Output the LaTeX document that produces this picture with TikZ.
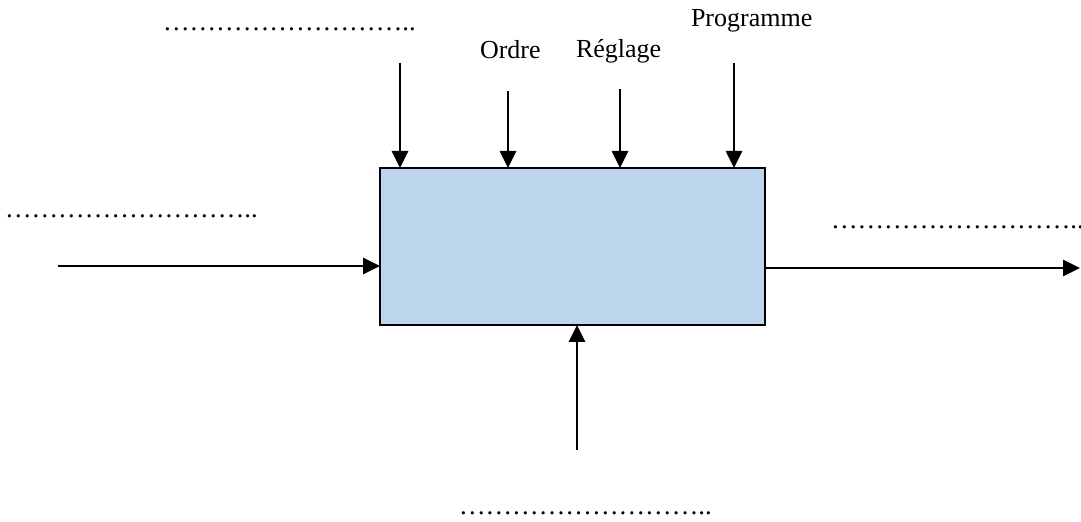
\documentclass[tikz,border=0pt]{standalone}
\usepackage{fontspec}
\setmainfont{Liberation Serif}
\usetikzlibrary{arrows.meta}
\definecolor{boxblue}{RGB}{189,214,238}
\begin{document}
\begin{tikzpicture}[x=0.5pt,y=-0.5pt,
  arr/.style={line width=1.35pt,-{Triangle[length=8.5pt,width=8pt]}},
  lbl/.style={inner sep=0pt,outer sep=0pt,anchor=base west,font=\fontsize{13}{15}\selectfont},
  dots/.style={lbl,font=\fontsize{13.3}{15}\selectfont},
  blk/.style={draw=black,line width=1.3pt,fill=boxblue,inner sep=0pt,outer sep=0pt,
    minimum width=192.5pt,minimum height=78.5pt}]
\useasboundingbox (0,0) rectangle (1081,522);
\clip (0,0) rectangle (1081,522);
\node[blk] (box) at (572.5,246.5) {};
% labels
\node[dots] (tl) at (163,31) {………………………..};
\node[lbl] (ordre) at (480,59) {Ordre};
\node[lbl] (reglage) at (576,58) {Réglage};
\node[lbl] (prog) at (691,27) {Programme};
\node[dots] (ll) at (5,218) {………………………..};
\node[dots] (rl) at (831,229) {………………………..};
\node[dots] (bl) at (459,515) {………………………..};
% arrow start points
\coordinate (t1) at (400,63);
\coordinate (t2) at (508,91);
\coordinate (t3) at (620,89);
\coordinate (t4) at (734,63);
\coordinate (lin) at (58,266);
\coordinate (rout) at (1080,268);
\coordinate (bin) at (577,450);
\draw[arr] (t1) -- (t1 |- box.north);
\draw[arr] (t2) -- (t2 |- box.north);
\draw[arr] (t3) -- (t3 |- box.north);
\draw[arr] (t4) -- (t4 |- box.north);
\draw[arr] (lin) -- (lin -| box.west);
\draw[arr] (box.east |- rout) -- (rout);
\draw[arr] (bin) -- (bin |- box.south);
\end{tikzpicture}
\end{document}
